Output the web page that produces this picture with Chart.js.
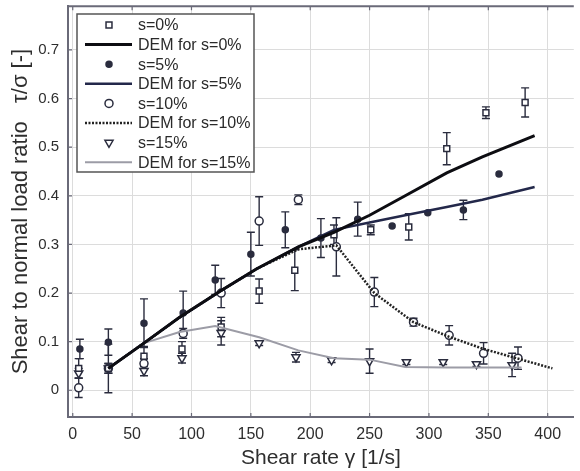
<!DOCTYPE html>
<html>
<head>
<meta charset="utf-8">
<script src="https://cdn.jsdelivr.net/npm/chart.js@4.4.1/dist/chart.umd.min.js"></script>
<style>
  html, body { margin: 0; padding: 0; background: #fff; }
  #wrap { width: 580px; height: 471px; position: relative; }
</style>
</head>
<body>
<div id="wrap"><canvas id="shearChart"></canvas></div>
<script>
// measured points (shear rate, ratio, +/- error)
const x0 = [5, 30, 60, 92, 125, 157, 187, 220, 251, 283, 315, 348, 381];
const y0 = [0.045, 0.045, 0.07, 0.085, 0.13, 0.204, 0.247, 0.32, 0.33, 0.336, 0.497, 0.571, 0.592];
const e0 = [0.02, 0.01, 0.02, 0.015, 0.02, 0.025, 0.042, 0.02, 0.01, 0.027, 0.033, 0.012, 0.03];

const x5 = [6, 30, 60, 93, 120, 150, 179, 209, 240, 269, 299, 329, 359];
const y5 = [0.085, 0.099, 0.138, 0.159, 0.227, 0.28, 0.33, 0.313, 0.352, 0.338, 0.365, 0.371, 0.445];
const e5 = [0.02, 0.027, 0.05, 0.045, 0.03, 0.045, 0.037, 0.04, 0.035, 0, 0, 0.02, 0];

const x10 = [5, 30, 60, 93, 125, 157, 190, 222, 254, 287, 317, 346, 375];
const y10 = [0.005, 0.045, 0.055, 0.117, 0.2, 0.348, 0.392, 0.295, 0.202, 0.14, 0.113, 0.076, 0.066];
const e10 = [0.02, 0.05, 0.01, 0.01, 0.03, 0.05, 0.01, 0.06, 0.03, 0.008, 0.02, 0.022, 0.023];

const x15 = [5, 30, 60, 92, 125, 157, 188, 218, 250, 281, 312, 340, 370];
const y15 = [0.035, 0.045, 0.04, 0.066, 0.118, 0.097, 0.068, 0.062, 0.06, 0.058, 0.058, 0.054, 0.052];
const e15 = [0.01, 0.01, 0.01, 0.01, 0.025, 0.005, 0.01, 0.005, 0.025, 0.005, 0.005, 0.005, 0.024];

// DEM simulation curves
const demX0 = [30, 60, 90, 125, 155, 190, 220, 250, 280, 315, 345, 389];
const demY0 = [0.045, 0.097, 0.15, 0.205, 0.25, 0.295, 0.325, 0.36, 0.40, 0.447, 0.48, 0.524];
const demX5 = [30, 60, 90, 125, 155, 190, 220, 250, 280, 315, 345, 389];
const demY5 = [0.045, 0.097, 0.15, 0.205, 0.25, 0.295, 0.33, 0.345, 0.36, 0.377, 0.392, 0.418];
const demX10 = [30, 60, 90, 125, 155, 190, 222, 254, 287, 317, 346, 375, 404];
const demY10 = [0.045, 0.097, 0.15, 0.205, 0.25, 0.29, 0.298, 0.2, 0.14, 0.11, 0.085, 0.065, 0.045];
const demX15 = [30, 60, 90, 120, 157, 190, 220, 250, 280, 315, 345, 378];
const demY15 = [0.045, 0.097, 0.12, 0.132, 0.109, 0.082, 0.066, 0.063, 0.048, 0.047, 0.047, 0.047];

const xTicks = [0, 50, 100, 150, 200, 250, 300, 350, 400];
const yTicks = [0, 0.1, 0.2, 0.3, 0.4, 0.5, 0.6, 0.7];
const legendLabels = ["s=0%", "DEM for s=0%", "s=5%", "DEM for s=5%", "s=10%", "DEM for s=10%", "s=15%", "DEM for s=15%"];

const markColor = "#2a2c3e";
const textColor = "#2e2e2e";
const font = "'Liberation Sans', Arial, sans-serif";

const pts = (xs, ys) => xs.map((x, i) => ({ x: x, y: ys[i] }));

function lineSet(label, xs, ys, color, width, dash) {
  return {
    type: "line", label: label, data: pts(xs, ys),
    borderColor: color, borderWidth: width, borderDash: dash || [],
    pointRadius: 0, fill: false, tension: 0, showLine: true
  };
}
function markSet(label, xs, ys, err, style, radius, filled, rot) {
  return {
    type: "scatter", label: label, data: pts(xs, ys), err: err,
    pointStyle: style, pointRadius: radius, pointRotation: rot || 0,
    pointBorderWidth: 1.5, pointBorderColor: markColor,
    pointBackgroundColor: filled ? markColor : "#fff", showLine: false
  };
}

const datasets = [
  lineSet("DEM for s=0%", demX0, demY0, "#0d0d12", 3),
  lineSet("DEM for s=5%", demX5, demY5, "#23284a", 2.5),
  lineSet("DEM for s=10%", demX10, demY10, "#222", 2.5, [2, 1.5]),
  lineSet("DEM for s=15%", demX15, demY15, "#9c9ca6", 2),
  markSet("s=0%", x0, y0, e0, "rect", 4.2, false),
  markSet("s=5%", x5, y5, e5, "circle", 3, true),
  markSet("s=10%", x10, y10, e10, "circle", 4, false),
  markSet("s=15%", x15, y15, e15, "triangle", 4.7, false, 180)
];

// error bars drawn from the data through the scales
const errorBars = {
  id: "errorBars",
  beforeDatasetsDraw(chart) {
    const ctx = chart.ctx, xs = chart.scales.x, ys = chart.scales.y;
    ctx.save();
    ctx.strokeStyle = markColor;
    ctx.lineWidth = 1.4;
    chart.data.datasets.forEach(ds => {
      if (!ds.err) return;
      ds.data.forEach((p, i) => {
        const e = ds.err[i];
        if (!e) return;
        const px = xs.getPixelForValue(p.x);
        const top = ys.getPixelForValue(p.y + e);
        const bot = ys.getPixelForValue(p.y - e);
        ctx.beginPath();
        ctx.moveTo(px, top); ctx.lineTo(px, bot);
        ctx.moveTo(px - 4, top); ctx.lineTo(px + 4, top);
        ctx.moveTo(px - 4, bot); ctx.lineTo(px + 4, bot);
        ctx.stroke();
      });
    });
    ctx.restore();
  }
};

// top frame line and inward ticks like the original figure
const frame = {
  id: "frame",
  afterDraw(chart) {
    const { ctx, chartArea: a } = chart;
    const xs = chart.scales.x, ys = chart.scales.y;
    ctx.save();
    ctx.strokeStyle = "#6a6a78";
    ctx.lineWidth = 2;
    ctx.beginPath();
    ctx.moveTo(a.left, a.top); ctx.lineTo(a.right, a.top);
    ctx.stroke();
    ctx.lineWidth = 1.2;
    ctx.beginPath();
    xTicks.forEach(v => {
      const px = xs.getPixelForValue(v);
      ctx.moveTo(px, a.bottom); ctx.lineTo(px, a.bottom - 4);
      ctx.moveTo(px, a.top); ctx.lineTo(px, a.top + 4);
    });
    yTicks.forEach(v => {
      const py = ys.getPixelForValue(v);
      ctx.moveTo(a.left, py); ctx.lineTo(a.left + 4, py);
    });
    ctx.stroke();
    ctx.restore();
  }
};

// legend box inside the plot, top left
const boxLegend = {
  id: "boxLegend",
  afterDatasetsDraw(chart) {
    const ctx = chart.ctx;
    const left = 77, top = 14, w = 177, h = 158;
    ctx.save();
    ctx.fillStyle = "#fff";
    ctx.fillRect(left, top, w, h);
    ctx.strokeStyle = "#555";
    ctx.lineWidth = 1.5;
    ctx.strokeRect(left, top, w, h);
    ctx.font = "16px " + font;
    ctx.textBaseline = "middle";
    legendLabels.forEach((label, i) => {
      const ds = chart.data.datasets.find(d => d.label === label);
      const y = 25 + i * 19.6;
      if (ds.type === "line") {
        ctx.save();
        ctx.strokeStyle = ds.borderColor;
        ctx.lineWidth = ds.borderWidth;
        ctx.setLineDash(ds.borderDash);
        ctx.beginPath();
        ctx.moveTo(85, y); ctx.lineTo(132, y);
        ctx.stroke();
        ctx.restore();
      } else {
        ctx.save();
        ctx.strokeStyle = ds.pointBorderColor;
        ctx.fillStyle = ds.pointBackgroundColor;
        ctx.lineWidth = ds.pointBorderWidth;
        Chart.helpers.drawPoint(ctx, {
          pointStyle: ds.pointStyle, radius: ds.pointRadius,
          rotation: ds.pointRotation, borderWidth: ds.pointBorderWidth
        }, 109, y);
        ctx.restore();
      }
      ctx.fillStyle = "#2a2a2a";
      ctx.fillText(label, 138, y + 1);
    });
    ctx.restore();
  }
};

new Chart(document.getElementById("shearChart"), {
  type: "scatter",
  data: { datasets: datasets },
  plugins: [errorBars, frame, boxLegend],
  options: {
    responsive: true,
    maintainAspectRatio: false,
    animation: false,
    layout: { padding: { top: 6, right: 0, bottom: 0, left: 0 } },
    plugins: { legend: { display: false }, tooltip: { enabled: false } },
    scales: {
      x: {
        type: "linear", min: -4, max: 422,
        afterFit(scale) { scale.height = 54; scale.paddingLeft = 0; scale.paddingRight = 0; },
        afterBuildTicks(scale) { scale.ticks = xTicks.map(v => ({ value: v })); },
        ticks: { color: textColor, font: { family: font, size: 16 }, padding: 8, maxRotation: 0 },
        grid: { color: "#dcdcdc", drawTicks: false },
        border: { color: "#6a6a78", width: 2 },
        title: { display: true, text: "Shear rate γ [1/s]", color: textColor,
                 font: { family: font, size: 21 }, padding: { top: 0, bottom: 0 } }
      },
      y: {
        type: "linear", min: -0.055, max: 0.79,
        afterFit(scale) { scale.width = 68; scale.paddingTop = 0; scale.paddingBottom = 0; },
        afterBuildTicks(scale) { scale.ticks = yTicks.map(v => ({ value: v })); },
        ticks: { color: textColor, font: { family: font, size: 15 }, padding: 9,
                 callback: v => String(Math.round(v * 10) / 10) },
        grid: { color: "#dcdcdc", drawTicks: false },
        border: { color: "#6a6a78", width: 2 },
        title: { display: true, text: "Shear to normal load ratio   τ/σ [-]", color: textColor,
                 font: { family: font, size: 22 }, padding: { top: 8, bottom: 0 } }
      }
    }
  }
});
</script>
</body>
</html>
